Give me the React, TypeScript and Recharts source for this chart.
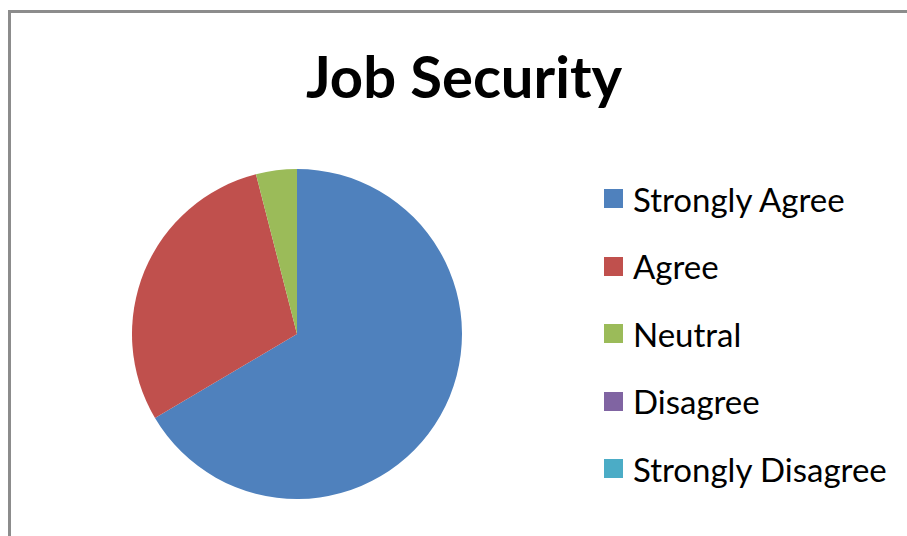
import React from 'react';
import { PieChart, Pie, Cell, Legend } from 'recharts';

const categories = ['Strongly Agree', 'Agree', 'Neutral', 'Disagree', 'Strongly Disagree'];
const shares = [66.5, 29.5, 4, 0, 0];
const colors = ['#4F81BD', '#C0504D', '#9BBB59', '#8064A2', '#4BACC6'];

const data = categories.map((name, i) => ({ name, value: shares[i] }));

const FONT = 'Lato, "Open Sans", sans-serif';

const renderLegend = (props: any) => {
  const { payload } = props;
  return (
    <ul style={{ listStyle: 'none', margin: 0, padding: 0 }}>
      {payload.map((entry: any, i: number) => (
        <li
          key={`item-${i}`}
          style={{ display: 'flex', alignItems: 'center', height: 67.5, fontFamily: FONT, fontSize: 33, color: '#000' }}
        >
          <span style={{ display: 'inline-block', width: 19, height: 19, background: entry.color, marginRight: 10 }} />
          {entry.value}
        </li>
      ))}
    </ul>
  );
};

const App: React.FC = () => {
  return (
    <div style={{ position: 'absolute', left: 0, top: 0, width: 907, height: 536, background: '#fff', overflow: 'hidden' }}>
      <div
        style={{
          position: 'absolute',
          left: 8,
          top: 10,
          width: 940,
          height: 600,
          borderLeft: '3px solid #8c8c8c',
          borderTop: '3px solid #8c8c8c',
        }}
      />
      <div
        style={{
          position: 'absolute',
          left: 0,
          top: 42,
          width: 928,
          textAlign: 'center',
          fontFamily: FONT,
          fontWeight: 700,
          fontSize: 58,
          lineHeight: '68px',
          color: '#000',
        }}
      >
        Job Security
      </div>
      <div style={{ position: 'absolute', left: 0, top: 0 }}>
        <PieChart width={907} height={536} margin={{ top: 0, right: 0, bottom: 0, left: 0 }}>
          <Pie
            data={data}
            dataKey="value"
            nameKey="name"
            cx={297}
            cy={334}
            outerRadius={165}
            startAngle={90}
            endAngle={-270}
            stroke="none"
            isAnimationActive={false}
          >
            {data.map((d, i) => (
              <Cell key={d.name} fill={colors[i]} />
            ))}
          </Pie>
          <Legend
            layout="vertical"
            align="right"
            verticalAlign="top"
            itemSorter={null}
            content={renderLegend}
            wrapperStyle={{ left: 604, top: 165, width: 300 }}
          />
        </PieChart>
      </div>
    </div>
  );
};

export default App;
